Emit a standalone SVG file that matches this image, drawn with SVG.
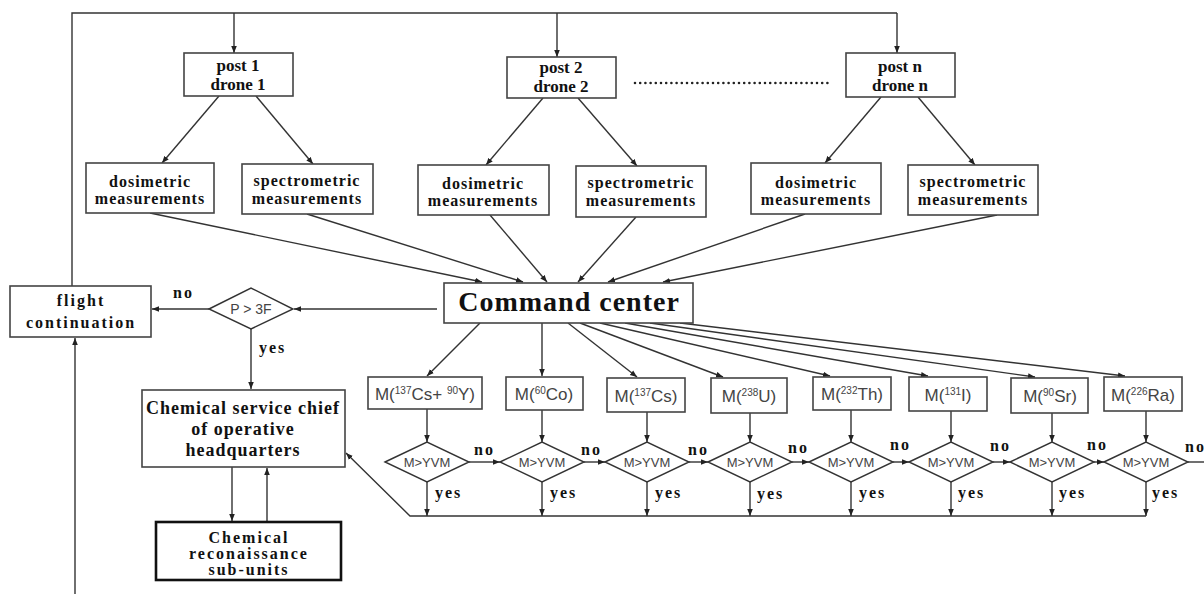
<svg xmlns="http://www.w3.org/2000/svg" width="1204" height="594" viewBox="0 0 1204 594">
<defs>
<marker id="ah" viewBox="0 0 10 10" refX="10" refY="5" markerWidth="7" markerHeight="7" markerUnits="userSpaceOnUse" orient="auto"><path d="M0,1 L10,5 L0,9 z" fill="#222"/></marker>
</defs>
<style>
.box{fill:#fff;stroke:#444;stroke-width:1.6}
.thick{fill:#fff;stroke:#111;stroke-width:2.6}
.dia{fill:#fff;stroke:#333;stroke-width:1.4}
.c{fill:none;stroke:#333;stroke-width:1.4}
.a{fill:none;stroke:#333;stroke-width:1.4;marker-end:url(#ah)}
.t{font-family:"Liberation Serif",serif;font-weight:bold;fill:#111;text-anchor:middle}
.s{font-family:"Liberation Sans",sans-serif;fill:#444;text-anchor:middle}
.lbl{font-family:"Liberation Serif",serif;font-weight:bold;fill:#111;font-size:16px;letter-spacing:2px}
</style>
<rect width="1204" height="594" fill="#fff"/>
<g id="connectors">
<path class="c" d="M72,286 V13 H897"/>
<path class="a" d="M897,13 V53"/>
<path class="a" d="M234,13 V53"/>
<path class="a" d="M557,13 V57"/>
<line x1="635" y1="83" x2="832" y2="83" stroke="#222" stroke-width="2.6" stroke-dasharray="0 5.2" stroke-linecap="round"/>
<path class="a" d="M219,96 L162,163"/>
<path class="a" d="M256,96 L313,164"/>
<path class="a" d="M543,98 L486,165"/>
<path class="a" d="M578,98 L637,166"/>
<path class="a" d="M881,97 L825,163"/>
<path class="a" d="M918,97 L975,165"/>
<path class="a" d="M150,213 L482,282"/>
<path class="a" d="M307,214 L523,282"/>
<path class="a" d="M490,215 L547,282"/>
<path class="a" d="M636,217 L578,282"/>
<path class="a" d="M805,214 L608,282"/>
<path class="a" d="M997,215 L663,282"/>
<path class="a" d="M437,309 H294"/>
<path class="a" d="M209,309 H152"/>
<path class="a" d="M251,329 V389"/>
<path class="a" d="M232,467 V521"/>
<path class="a" d="M267,522 V468"/>
<path class="a" d="M75,594 V338"/>
<path class="a" d="M480,323 L427,376"/>
<path class="a" d="M542,323 V376"/>
<path class="a" d="M568,323 L637,377"/>
<path class="a" d="M580,323 L723,377"/>
<path class="a" d="M600,323 L830,376"/>
<path class="a" d="M625,323 L928,376"/>
<path class="a" d="M650,323 L1035,377"/>
<path class="a" d="M680,323 L1125,376"/>
<path class="a" d="M427,409 V442"/>
<path class="a" d="M542,410 V442"/>
<path class="a" d="M647,412 V442"/>
<path class="a" d="M750,413 V442"/>
<path class="a" d="M851,410 V442"/>
<path class="a" d="M951,411 V442"/>
<path class="a" d="M1052,413 V442"/>
<path class="a" d="M1146,411 V442"/>
<path class="a" d="M469,462 H500"/>
<path class="a" d="M584,462 H605"/>
<path class="a" d="M689,462 H708"/>
<path class="a" d="M792,462 H809"/>
<path class="a" d="M893,462 H909"/>
<path class="a" d="M993,462 H1010"/>
<path class="a" d="M1094,462 H1104"/>
<path class="c" d="M1188,462 H1204"/>
<path class="a" d="M427,482 V516"/>
<path class="a" d="M542,482 V516"/>
<path class="a" d="M647,482 V516"/>
<path class="a" d="M750,482 V516"/>
<path class="a" d="M851,482 V516"/>
<path class="a" d="M951,482 V516"/>
<path class="a" d="M1052,482 V516"/>
<path class="a" d="M1146,482 V516"/>
<path class="a" d="M1146,516 H410 L346,453"/>
<text class="lbl" x="173" y="298">no</text>
<text class="lbl" x="259" y="353">yes</text>
<text class="lbl" x="474" y="455">no</text>
<text class="lbl" x="581" y="455">no</text>
<text class="lbl" x="688" y="455">no</text>
<text class="lbl" x="788" y="453">no</text>
<text class="lbl" x="890" y="450">no</text>
<text class="lbl" x="990" y="451">no</text>
<text class="lbl" x="1087" y="450">no</text>
<text class="lbl" x="1185" y="452" letter-spacing="0">no</text>
<text class="lbl" x="435" y="498">yes</text>
<text class="lbl" x="550" y="498">yes</text>
<text class="lbl" x="655" y="498">yes</text>
<text class="lbl" x="757" y="499">yes</text>
<text class="lbl" x="859" y="498">yes</text>
<text class="lbl" x="958" y="498">yes</text>
<text class="lbl" x="1059" y="498">yes</text>
<text class="lbl" x="1152" y="498">yes</text>
</g>
<g id="post1"><rect class="box" x="184" y="53" width="109" height="43"/><text class="t" x="238" y="71" font-size="17">post 1</text><text class="t" x="238" y="90" font-size="17">drone 1</text></g>
<g id="post2"><rect class="box" x="507" y="57" width="109" height="41"/><text class="t" x="561" y="73" font-size="17">post 2</text><text class="t" x="561" y="92" font-size="17">drone 2</text></g>
<g id="postn"><rect class="box" x="846" y="53" width="109" height="44"/><text class="t" x="900" y="72" font-size="17">post n</text><text class="t" x="900" y="91" font-size="17">drone n</text></g>
<g id="dos1"><rect class="box" x="86" y="163" width="128" height="50"/><text class="t" x="150" y="187" font-size="16" letter-spacing="1">dosimetric</text><text class="t" x="150" y="204" font-size="16" letter-spacing="1">measurements</text></g>
<g id="spec1"><rect class="box" x="242" y="164" width="131" height="50"/><text class="t" x="307" y="186" font-size="16" letter-spacing="1">spectrometric</text><text class="t" x="307" y="204" font-size="16" letter-spacing="1">measurements</text></g>
<g id="dos2"><rect class="box" x="418" y="165" width="131" height="50"/><text class="t" x="483" y="189" font-size="16" letter-spacing="1">dosimetric</text><text class="t" x="483" y="206" font-size="16" letter-spacing="1">measurements</text></g>
<g id="spec2"><rect class="box" x="576" y="166" width="130" height="51"/><text class="t" x="641" y="188" font-size="16" letter-spacing="1">spectrometric</text><text class="t" x="641" y="206" font-size="16" letter-spacing="1">measurements</text></g>
<g id="dosn"><rect class="box" x="751" y="163" width="130" height="51"/><text class="t" x="816" y="188" font-size="16" letter-spacing="1">dosimetric</text><text class="t" x="816" y="205" font-size="16" letter-spacing="1">measurements</text></g>
<g id="specn"><rect class="box" x="908" y="165" width="130" height="50"/><text class="t" x="973" y="187" font-size="16" letter-spacing="1">spectrometric</text><text class="t" x="973" y="205" font-size="16" letter-spacing="1">measurements</text></g>
<g id="command"><rect class="box" x="444" y="283" width="249" height="40"/><text class="t" x="569" y="311" font-size="28" letter-spacing="1">Command center</text></g>
<g id="flight"><rect class="box" x="10" y="286" width="141" height="51"/><text class="t" x="81" y="306" font-size="16" letter-spacing="2">flight</text><text class="t" x="81" y="328" font-size="16" letter-spacing="2">continuation</text></g>
<g id="p3f"><polygon class="dia" points="209,309 251,288 293,309 251,329"/><text class="s" x="251" y="314" font-size="14" fill="#555">P &gt; 3F</text></g>
<g id="chief"><rect class="box" x="142" y="390" width="203" height="77"/><text class="t" x="243" y="414" font-size="18" letter-spacing="1">Chemical service chief</text><text class="t" x="243" y="435" font-size="18" letter-spacing="1">of operative</text><text class="t" x="243" y="456" font-size="18" letter-spacing="1">headquarters</text></g>
<g id="recon"><rect class="thick" x="156" y="522" width="185" height="58"/><text class="t" x="249" y="543" font-size="16" letter-spacing="2">Chemical</text><text class="t" x="249" y="559" font-size="16" letter-spacing="2">reconaissance</text><text class="t" x="249" y="575" font-size="16" letter-spacing="2">sub-units</text></g>
<g id="m1"><rect class="box" x="368" y="377" width="114" height="32"/><text class="s" x="425" y="400" font-size="17">M(<tspan font-size="10" dy="-6">137</tspan><tspan dy="6">Cs+ </tspan><tspan font-size="10" dy="-6">90</tspan><tspan dy="6">Y)</tspan></text></g>
<g id="m2"><rect class="box" x="506" y="377" width="77" height="33"/><text class="s" x="544" y="400" font-size="17">M(<tspan font-size="10" dy="-6">60</tspan><tspan dy="6">Co)</tspan></text></g>
<g id="m3"><rect class="box" x="607" y="378" width="78" height="34"/><text class="s" x="646" y="402" font-size="17">M(<tspan font-size="10" dy="-6">137</tspan><tspan dy="6">Cs)</tspan></text></g>
<g id="m4"><rect class="box" x="711" y="378" width="76" height="35"/><text class="s" x="749" y="402" font-size="17">M(<tspan font-size="10" dy="-6">238</tspan><tspan dy="6">U)</tspan></text></g>
<g id="m5"><rect class="box" x="813" y="377" width="78" height="33"/><text class="s" x="852" y="400" font-size="17">M(<tspan font-size="10" dy="-6">232</tspan><tspan dy="6">Th)</tspan></text></g>
<g id="m6"><rect class="box" x="909" y="377" width="78" height="34"/><text class="s" x="948" y="401" font-size="17">M(<tspan font-size="10" dy="-6">131</tspan><tspan dy="6">I)</tspan></text></g>
<g id="m7"><rect class="box" x="1011" y="378" width="77" height="35"/><text class="s" x="1050" y="402" font-size="17">M(<tspan font-size="10" dy="-6">90</tspan><tspan dy="6">Sr)</tspan></text></g>
<g id="m8"><rect class="box" x="1104" y="377" width="78" height="34"/><text class="s" x="1143" y="401" font-size="17">M(<tspan font-size="10" dy="-6">226</tspan><tspan dy="6">Ra)</tspan></text></g>
<g id="d1"><polygon class="dia" points="385,462 427,442 469,462 427,482"/><text class="s" x="427" y="467" font-size="13" fill="#555">M&gt;YVM</text></g>
<g id="d2"><polygon class="dia" points="500,462 542,442 584,462 542,482"/><text class="s" x="542" y="467" font-size="13" fill="#555">M&gt;YVM</text></g>
<g id="d3"><polygon class="dia" points="605,462 647,442 689,462 647,482"/><text class="s" x="647" y="467" font-size="13" fill="#555">M&gt;YVM</text></g>
<g id="d4"><polygon class="dia" points="708,462 750,442 792,462 750,482"/><text class="s" x="750" y="467" font-size="13" fill="#555">M&gt;YVM</text></g>
<g id="d5"><polygon class="dia" points="809,462 851,442 893,462 851,482"/><text class="s" x="851" y="467" font-size="13" fill="#555">M&gt;YVM</text></g>
<g id="d6"><polygon class="dia" points="909,462 951,442 993,462 951,482"/><text class="s" x="951" y="467" font-size="13" fill="#555">M&gt;YVM</text></g>
<g id="d7"><polygon class="dia" points="1010,462 1052,442 1094,462 1052,482"/><text class="s" x="1052" y="467" font-size="13" fill="#555">M&gt;YVM</text></g>
<g id="d8"><polygon class="dia" points="1104,462 1146,442 1188,462 1146,482"/><text class="s" x="1146" y="467" font-size="13" fill="#555">M&gt;YVM</text></g>
</svg>
